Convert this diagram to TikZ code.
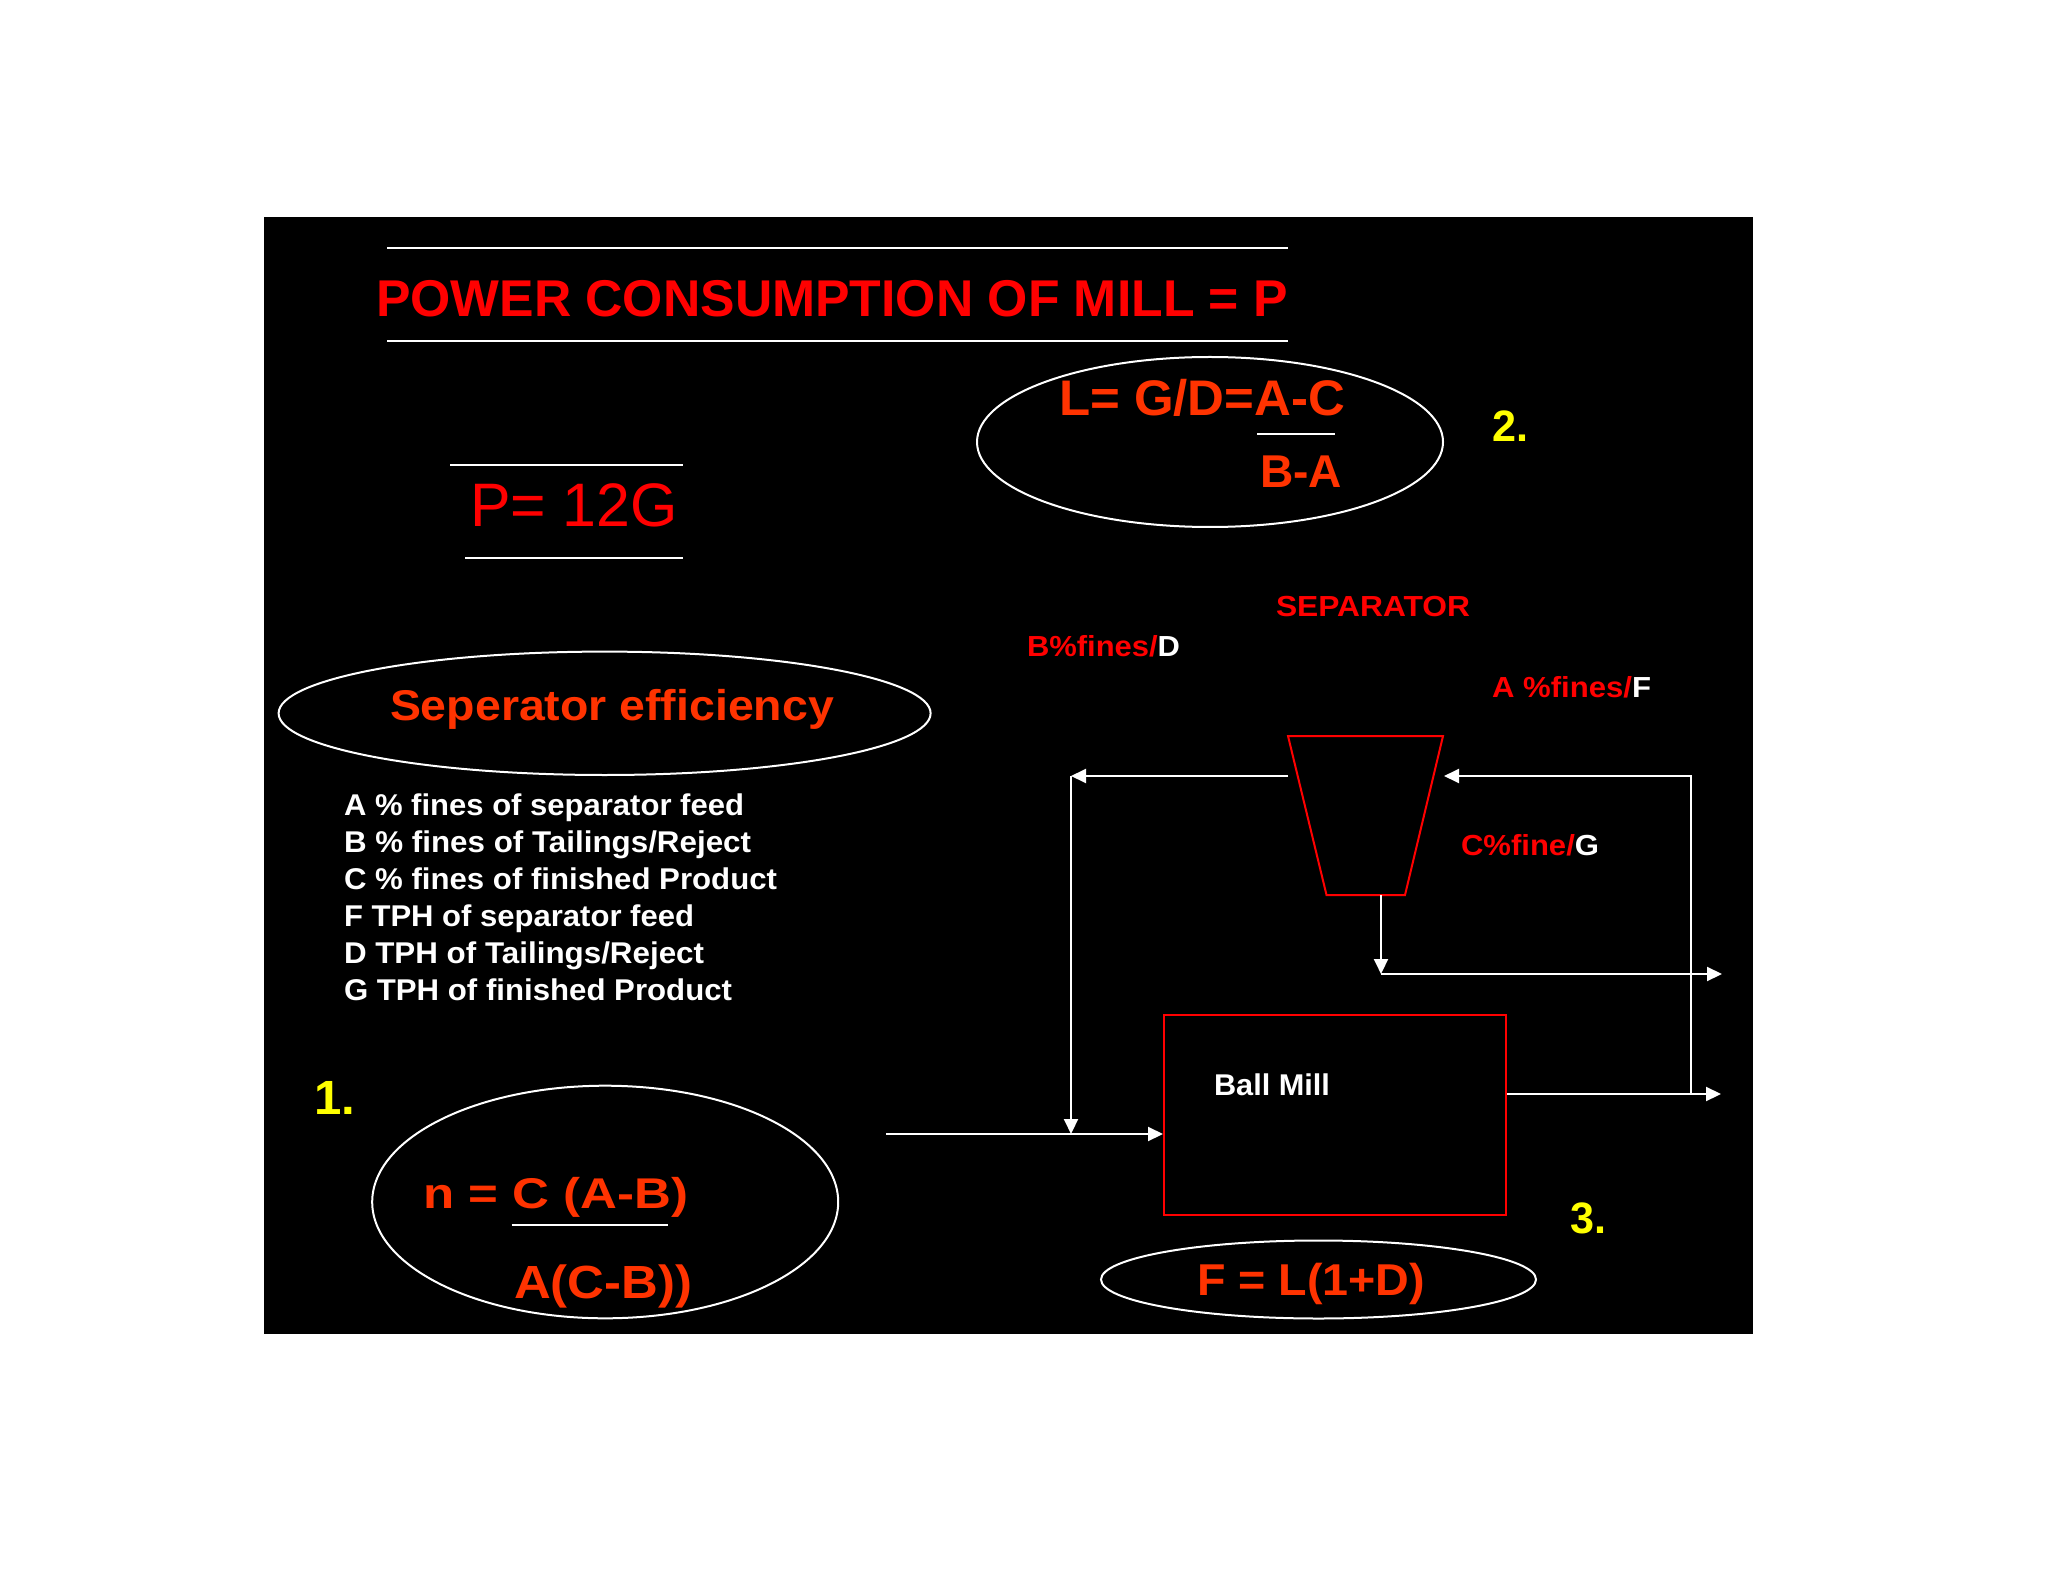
\documentclass[tikz,border=0pt]{standalone}
\usepackage{fontspec}
\setmainfont{Liberation Sans}
\usetikzlibrary{arrows.meta,shapes.geometric}
\definecolor{ored}{RGB}{255,51,0}
\definecolor{pred}{RGB}{255,0,0}
\definecolor{yel}{RGB}{255,255,0}
\newcommand{\fw}[2]{\resizebox{#1}{\height}{#2}}
\newcommand{\fsz}[1]{\fontsize{#1}{#1}\selectfont}
\begin{document}
\begin{tikzpicture}[x=0.5pt,y=-0.5pt,
  txt/.style={inner sep=0pt, outer sep=0pt, anchor=base west},
  wline/.style={draw=white, line width=1pt},
  rline/.style={draw=pred, line width=1pt},
  ell/.style={draw=white, line width=1pt, ellipse, inner sep=0pt},
  flow/.style={draw=white, line width=1pt, -{Triangle[length=7.5pt,width=7pt]}},
  bold/.style={font=\bfseries\fsz{#1}},
  regf/.style={font=\fsz{#1}}
]
\useasboundingbox (0,0) rectangle (2048,1582);
\fill[white] (0,0) rectangle (2048,1582);
\fill[black] (264,217) rectangle (1753,1334);

% title
\draw[wline] (387,248) -- (1288,248);
\node[txt, text=pred, bold=25.85pt] (title) at (376,317) {\fw{456pt}{POWER CONSUMPTION OF MILL = P}};
\draw[wline] (387,341) -- (1288,341);

% P = 12G
\draw[wline] (450,465) -- (683,465);
\node[txt, text=pred, regf=30.7pt] (peq) at (470,527) {\fw{104pt}{P= 12G}};
\draw[wline] (465,558) -- (683,558);

% L formula
\node[ell, minimum width=233pt, minimum height=85pt] (ellL) at (1210,442) {};
\node[txt, text=ored, bold=25pt] (leq) at (1059,416) {\fw{143pt}{L= G/D=A-C}};
\draw[wline] (1257,434) -- (1335,434);
\node[txt, text=ored, bold=23pt] (ba) at (1260,488) {\fw{41pt}{B-A}};
\node[txt, text=yel, bold=22pt] (n2) at (1492,442) {\fw{18pt}{2.}};

% labels
\node[txt, text=pred, bold=14.5pt] (sep) at (1276,616) {\fw{97pt}{SEPARATOR}};
\node[txt, text=pred, bold=14.5pt] (bfin) at (1027,656) {\fw{76.5pt}{B\%fines/\textcolor{white}{D}}};
\node[txt, text=pred, bold=14.5pt] (afin) at (1492,697) {\fw{79.5pt}{A \%fines/\textcolor{white}{F}}};
\node[txt, text=pred, bold=14.5pt] (cfin) at (1461,855) {\fw{69pt}{C\%fine/\textcolor{white}{G}}};

% separator
\draw[rline] (1288,736) -- (1443,736) -- (1405,895) -- (1326.5,895) -- cycle;
\coordinate (sL) at (1288,776);
\coordinate (tL) at (1071,776);
\coordinate (jin) at (1071,1134);
\coordinate (sR) at (1444,776);
\coordinate (sB) at (1381,895);
\coordinate (pj) at (1381,974);
\coordinate (o2) at (1722,974);

% ball mill
\node[draw=pred, line width=1pt, minimum width=171pt, minimum height=100pt, inner sep=0pt, anchor=north west] (mill) at (1163,1014) {};
\node[txt, text=white, bold=15pt] (bm) at (1214,1095) {\fw{58pt}{Ball Mill}};
\coordinate (src) at (886,1134);
\coordinate (o1) at (1721,1094);
\coordinate (rj) at (1691,1094);

\draw[flow] (sL) -- (tL);
\draw[flow] (tL) -- (jin);
\draw[flow] (src) -- (mill.west |- src);
\draw[flow] (mill.east |- o1) -- (o1);
\draw[flow] (rj) |- (sR);
\draw[flow] (sB) -- (pj);
\draw[flow] (pj) -- (o2);

\node[txt, text=yel, bold=22pt] (n3) at (1570,1233) {\fw{18pt}{3.}};

% F formula
\node[ell, minimum width=217.5pt, minimum height=39pt] (ellF) at (1318.5,1279.5) {};
\node[txt, text=ored, bold=22.3pt] (feq) at (1197,1295) {\fw{114pt}{F = L(1+D)}};

% separator efficiency
\node[ell, minimum width=326pt, minimum height=61.7pt] (ellS) at (604.6,713.3) {};
\node[txt, text=ored, bold=21.5pt] (seff) at (390,720.7) {\fw{222pt}{Seperator efficiency}};

\node[txt, text=white, bold=15pt] (l1) at (344,815.7) {\fw{200pt}{A \% fines of separator feed}};
\node[txt, text=white, bold=15pt] (l2) at (344,852.3) {\fw{203.5pt}{B \% fines of Tailings/Reject}};
\node[txt, text=white, bold=15pt] (l3) at (344,889.3) {\fw{216.5pt}{C \% fines of finished Product}};
\node[txt, text=white, bold=15pt] (l4) at (344,926.7) {\fw{175pt}{F TPH of separator feed}};
\node[txt, text=white, bold=15pt] (l5) at (344,963.3) {\fw{180pt}{D TPH of Tailings/Reject}};
\node[txt, text=white, bold=15pt] (l6) at (344,1000.7) {\fw{194pt}{G TPH of finished Product}};

% efficiency formula
\node[txt, text=yel, bold=24pt] (n1) at (314,1114) {\fw{20.5pt}{1.}};
\node[ell, minimum width=233pt, minimum height=116.3pt] (ellN) at (605.2,1202) {};
\node[txt, text=ored, bold=21.5pt] (neq) at (423,1208.3) {\fw{132.5pt}{n = C (A-B)}};
\draw[wline] (511.7,1225) -- (668.3,1225);
\node[txt, text=ored, bold=23.25pt] (den) at (514,1298.3) {\fw{89pt}{A(C-B))}};
\end{tikzpicture}
\end{document}
